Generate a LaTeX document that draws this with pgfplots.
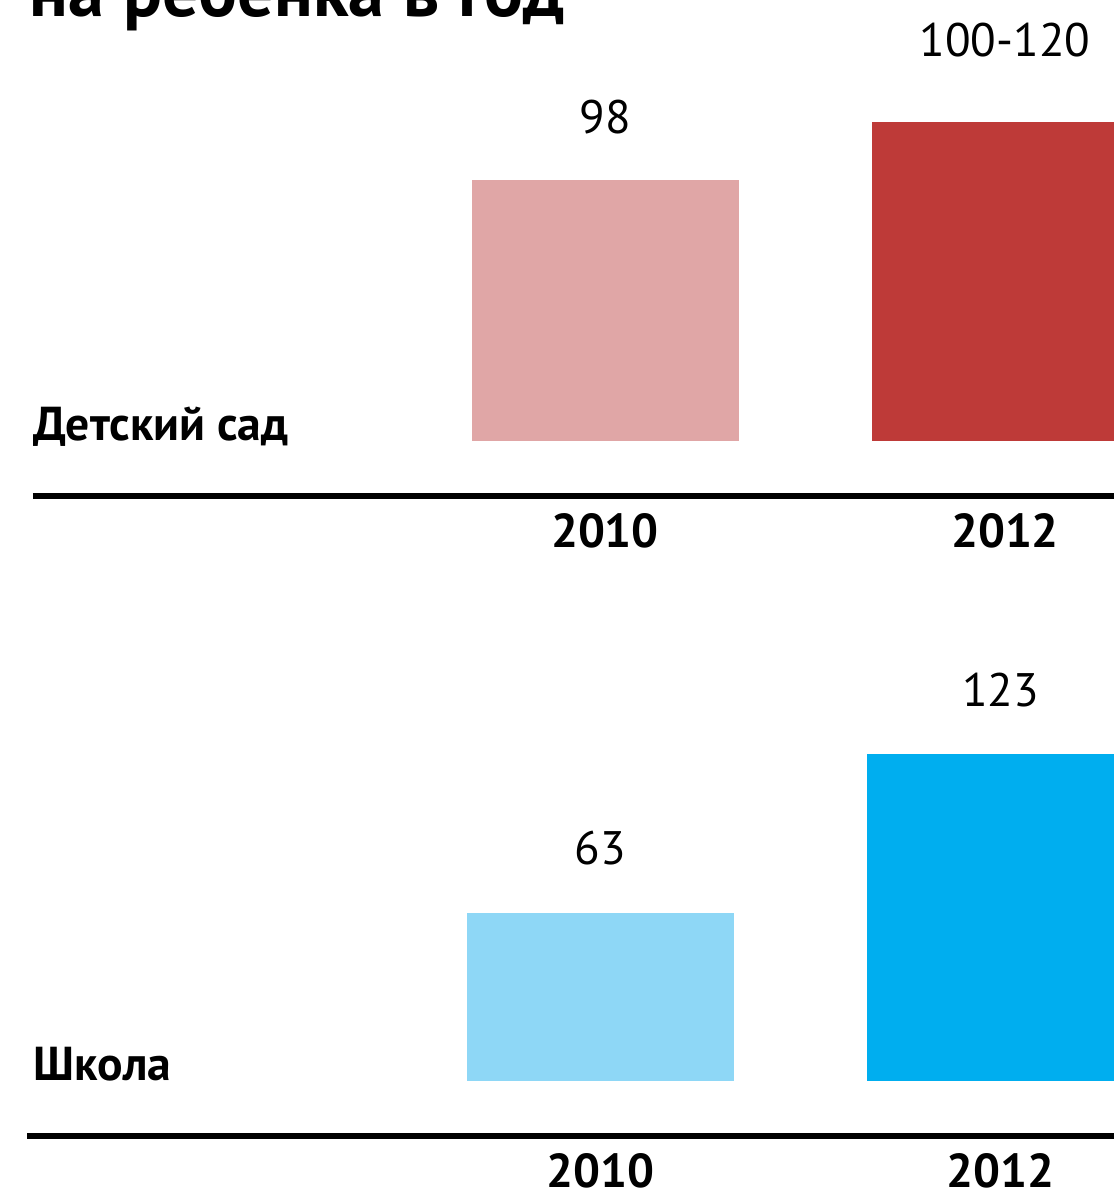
\documentclass[border=0pt]{standalone}
\usepackage{fontspec}
\setmainfont{PT Sans}
\usepackage{pgfplots}
\pgfplotsset{compat=1.18}
\definecolor{kgpink}{HTML}{E0A6A6}
\definecolor{kgred}{HTML}{BE3A38}
\definecolor{schlblue}{HTML}{8ED7F6}
\definecolor{schblue}{HTML}{00AEEF}

\pgfplotsset{panel/.style={
    ybar, bar width=66.75pt,
    x=100pt, y=0.665pt,
    clip=false,
    axis x line*=bottom, axis y line=none,
    x axis line style={line width=1.5pt},
    xtick={0,1}, xticklabels={\textbf{2010},\textbf{2012}},
    xtick style={draw=none}, ytick=\empty,
    xticklabel style={anchor=center, yshift=-4.5pt, font=\fontsize{11.9}{14}\selectfont},
    nodes near coords, point meta=explicit symbolic,
    every node near coord/.append style={anchor=center, font=\fontsize{11.75}{14}\selectfont},
    xmax=1.35, ymax=130,
}}

\begin{document}
\begin{tikzpicture}
\useasboundingbox (0,0) rectangle (278.5pt,-297.75pt);
\clip (0,0) rectangle (278.5pt,-297.75pt);

\node[anchor=base west, inner sep=0, font=\fontsize{18.1}{20}\selectfont\bfseries]
  at (7.3pt,-4pt) {на ребенка в год};

% детский сад
\begin{axis}[panel, at={(8.25pt,-124pt)}, anchor=south west, xmin=-1.43, ymin=-20.7]
\addplot[fill=kgpink, draw=none, bar shift=0pt,
  every node near coord/.append style={yshift=15.75pt}] coordinates {(0,98) [98]};
\addplot[fill=kgred, draw=none, bar shift=0pt,
  every node near coord/.append style={yshift=20.5pt}] coordinates {(1,120) [100-120]};
\node[anchor=base west, inner sep=0, font=\fontsize{11.9}{14}\selectfont\bfseries]
  at (axis cs:-1.43,0) {Детский сад};
\end{axis}

% школа
\begin{axis}[panel, at={(6.75pt,-284pt)}, anchor=south west, xmin=-1.434, ymin=-20.7]
\addplot[fill=schlblue, draw=none, bar shift=0pt,
  every node near coord/.append style={yshift=16.25pt}] coordinates {(0,63) [63]};
\addplot[fill=schblue, draw=none, bar shift=0pt,
  every node near coord/.append style={yshift=16pt}] coordinates {(1,123) [123]};
\node[anchor=base west, inner sep=0, font=\fontsize{11.9}{14}\selectfont\bfseries]
  at (axis cs:-1.419,0) {Школа};
\end{axis}
\end{tikzpicture}
\end{document}
